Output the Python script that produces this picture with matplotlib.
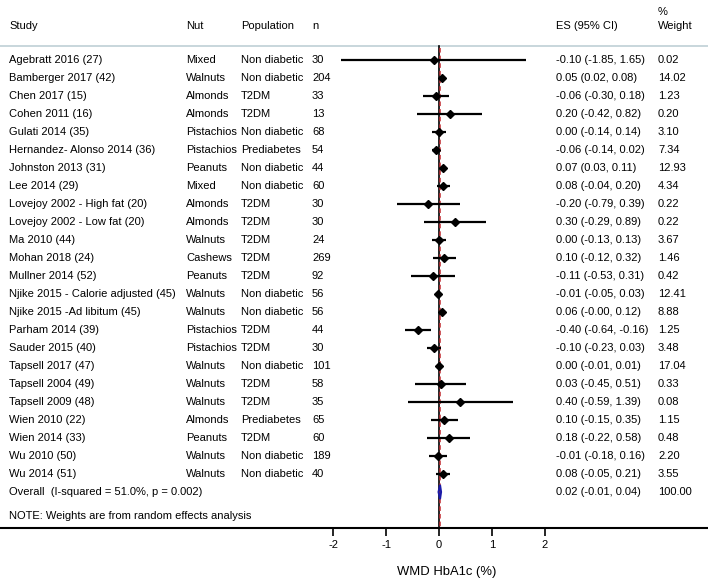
import matplotlib
matplotlib.use("Agg")
import matplotlib.pyplot as plt
from matplotlib.patches import Polygon

studies = ["Agebratt 2016 (27)", "Bamberger 2017 (42)", "Chen 2017 (15)", "Cohen 2011 (16)",
           "Gulati 2014 (35)", "Hernandez- Alonso 2014 (36)", "Johnston 2013 (31)", "Lee 2014 (29)",
           "Lovejoy 2002 - High fat (20)", "Lovejoy 2002 - Low fat (20)", "Ma 2010 (44)", "Mohan 2018 (24)",
           "Mullner 2014 (52)", "Njike 2015 - Calorie adjusted (45)", "Njike 2015 -Ad libitum (45)",
           "Parham 2014 (39)", "Sauder 2015 (40)", "Tapsell 2017 (47)", "Tapsell 2004 (49)",
           "Tapsell 2009 (48)", "Wien 2010 (22)", "Wien 2014 (33)", "Wu 2010 (50)", "Wu 2014 (51)"]
nuts = ["Mixed", "Walnuts", "Almonds", "Almonds", "Pistachios", "Pistachios", "Peanuts", "Mixed",
        "Almonds", "Almonds", "Walnuts", "Cashews", "Peanuts", "Walnuts", "Walnuts", "Pistachios",
        "Pistachios", "Walnuts", "Walnuts", "Walnuts", "Almonds", "Peanuts", "Walnuts", "Walnuts"]
populations = ["Non diabetic", "Non diabetic", "T2DM", "T2DM", "Non diabetic", "Prediabetes",
               "Non diabetic", "Non diabetic", "T2DM", "T2DM", "T2DM", "T2DM", "T2DM", "Non diabetic",
               "Non diabetic", "T2DM", "T2DM", "Non diabetic", "T2DM", "T2DM", "Prediabetes", "T2DM",
               "Non diabetic", "Non diabetic"]
n_values = [30, 204, 33, 13, 68, 54, 44, 60, 30, 30, 24, 269, 92, 56, 56, 44, 30, 101, 58, 35, 65, 60, 189, 40]
es = [-0.10, 0.05, -0.06, 0.20, 0.00, -0.06, 0.07, 0.08, -0.20, 0.30, 0.00, 0.10, -0.11, -0.01, 0.06,
      -0.40, -0.10, 0.00, 0.03, 0.40, 0.10, 0.18, -0.01, 0.08]
lo = [-1.85, 0.02, -0.30, -0.42, -0.14, -0.14, 0.03, -0.04, -0.79, -0.29, -0.13, -0.12, -0.53, -0.05,
      -0.00, -0.64, -0.23, -0.01, -0.45, -0.59, -0.15, -0.22, -0.18, -0.05]
hi = [1.65, 0.08, 0.18, 0.82, 0.14, 0.02, 0.11, 0.20, 0.39, 0.89, 0.13, 0.32, 0.31, 0.03, 0.12, -0.16,
      0.03, 0.01, 0.51, 1.39, 0.35, 0.58, 0.16, 0.21]
weights = ["0.02", "14.02", "1.23", "0.20", "3.10", "7.34", "12.93", "4.34", "0.22", "0.22", "3.67",
           "1.46", "0.42", "12.41", "8.88", "1.25", "3.48", "17.04", "0.33", "0.08", "1.15", "0.48",
           "2.20", "3.55"]
overall_es, overall_lo, overall_hi = 0.02, -0.01, 0.04
overall_label = "Overall  (I-squared = 51.0%, p = 0.002)"
overall_weight = "100.00"
note = "NOTE: Weights are from random effects analysis"
xticks = [-2, -1, 0, 1, 2]

plt.rcParams['font.family'] = ['Liberation Sans', 'DejaVu Sans']
FS = 8.0

W, H = 708, 581
fig = plt.figure(figsize=(W / 100, H / 100), dpi=100)
ax = fig.add_axes([0, 0, 1, 1])

x0px, upx = 439.0, 52.9
y0px, rowpx = 60.0, 18.0
ax.set_xlim((0 - x0px) / upx, (W - x0px) / upx)
ax.set_ylim((H - y0px) / rowpx, (0 - y0px) / rowpx)

def xpx(p):
    return (p - x0px) / upx

def rpx(p):
    return (p - y0px) / rowpx

col_study, col_nut, col_pop, col_n, col_es, col_w = 9, 186, 241, 312, 556, 658

# header
hy = rpx(26)
for txt, c in [("Study", col_study), ("Nut", col_nut), ("Population", col_pop), ("n", col_n),
               ("ES (95% CI)", col_es)]:
    ax.text(xpx(c), hy, txt, fontsize=FS, va="center", ha="left")
ax.text(xpx(col_w), rpx(12), "%", fontsize=FS, va="center", ha="left")
ax.text(xpx(col_w), hy, "Weight", fontsize=FS, va="center", ha="left")
ax.axhline(rpx(46), color="#bfd0d6", lw=1.2)

nrows = len(studies)
for i in range(nrows):
    ax.text(xpx(col_study), i, studies[i], fontsize=FS, va="center")
    ax.text(xpx(col_nut), i, nuts[i], fontsize=FS, va="center")
    ax.text(xpx(col_pop), i, populations[i], fontsize=FS, va="center")
    ax.text(xpx(col_n), i, str(n_values[i]), fontsize=FS, va="center")
    ax.text(xpx(col_es), i, f"{es[i]:.2f} ({lo[i]:.2f}, {hi[i]:.2f})", fontsize=FS, va="center")
    ax.text(xpx(col_w), i, weights[i], fontsize=FS, va="center")
    ax.plot([lo[i], hi[i]], [i, i], color="black", lw=1.6, solid_capstyle="butt", zorder=3)
    ax.plot(es[i], i, marker="D", color="black", ms=3.8, zorder=4)

ov = nrows
ax.text(xpx(col_study), ov, overall_label, fontsize=FS, va="center")
ax.text(xpx(col_es), ov, f"{overall_es:.2f} ({overall_lo:.2f}, {overall_hi:.2f})", fontsize=FS, va="center")
ax.text(xpx(col_w), ov, overall_weight, fontsize=FS, va="center")
dia = Polygon([[overall_lo, ov], [overall_es, ov - 0.4], [overall_hi, ov], [overall_es, ov + 0.4]],
              closed=True, facecolor="none", edgecolor="#1a1aa8", lw=1.4, zorder=5)
ax.add_patch(dia)

ax.text(xpx(col_study), rpx(516), note, fontsize=FS, va="center")

axis_row = rpx(528)
ax.plot([0, 0], [rpx(46), axis_row], color="black", lw=1.2, zorder=2)
ax.plot([overall_es, overall_es], [rpx(48), axis_row], color="#c0282d", lw=1.1, ls=(0, (3, 2)), zorder=2)

for s in ["top", "left", "right"]:
    ax.spines[s].set_visible(False)
ax.spines["bottom"].set_position(("data", axis_row))
ax.spines["bottom"].set_linewidth(1.5)
ax.set_yticks([])
ax.set_xticks(xticks)
ax.set_xticklabels([str(t) for t in xticks], fontsize=FS)
ax.tick_params(axis="x", direction="out", length=6, width=1.2, pad=3)

ax.text(xpx(447), rpx(572), "WMD HbA1c (%)", fontsize=9.4, ha="center", va="center")

fig.savefig("out.png", dpi=100)
